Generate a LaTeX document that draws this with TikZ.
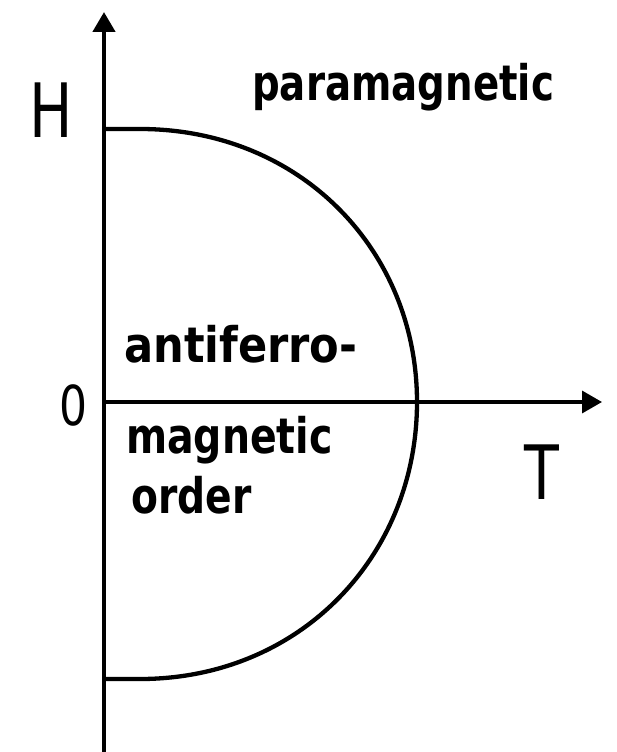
\documentclass[tikz,border=0pt]{standalone}
\usepackage{fontspec}
\setmainfont{DejaVu Sans}
\usetikzlibrary{arrows.meta}
\begin{document}
\begin{tikzpicture}[x=1pt,y=-1pt,
  axis/.style={-{Triangle[length=20pt,width=22pt]}},
  curve/.style={line width=4.3pt},
  lbl/.style={anchor=base west,inner sep=0pt,font=\fontsize{49}{49}\selectfont\bfseries},
  big/.style={anchor=base west,inner sep=0pt,font=\fontsize{75}{75}\selectfont}]
\useasboundingbox (0,0) rectangle (616,752);
\coordinate (o) at (104,402);
\coordinate (ybot) at (104,752);
\coordinate (ytop) at (104,12);
\coordinate (xend) at (602,402);
\coordinate (c1) at (104,129);
\coordinate (c2) at (140,129);
\coordinate (c3) at (417,402);
\coordinate (c4) at (140,679);
\coordinate (c5) at (104,679);
\draw[axis,line width=4.5pt] (ybot) -- (ytop);
\draw[axis,line width=3.5pt] (o) -- (xend);
\draw[curve] (c1) -- (c2) .. controls (300,129) and (417,250) .. (c3)
  .. controls (417,556) and (300,679) .. (c4) -- (c5);
\node[big] (H) at (29,137) {\scalebox{0.77}[1]{H}};
\node[big] (T) at (524,499) {\scalebox{0.76}[1]{T}};
\node[anchor=base west,inner sep=0pt,font=\fontsize{55}{55}\selectfont] (zero) at (59,425) {\scalebox{0.8}[1]{0}};
\node[lbl] (para) at (252,100) {\scalebox{0.79}[1]{paramagnetic}};
\node[lbl] (anti) at (124,362) {\scalebox{0.88}[1]{antiferro-}};
\node[lbl] (mag) at (126,453) {\scalebox{0.805}[1]{magnetic}};
\node[lbl] (ord) at (131,513) {\scalebox{0.8}[1]{order}};
\end{tikzpicture}
\end{document}
